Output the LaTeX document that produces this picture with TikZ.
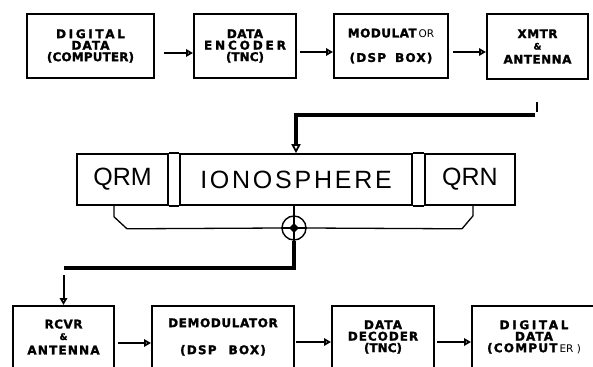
\documentclass[tikz,border=0pt]{standalone}
\usepackage{fontspec}
\newfontfamily\lett{DejaVu Sans}[BoldFeatures={FakeBold=1.6}]
\newfontfamily\thinf{Liberation Sans}
\usetikzlibrary{arrows.meta,shapes.geometric}
\newcommand\ls[2]{{\addfontfeatures{LetterSpace=#1}#2}}
\newcommand\rg[1]{{\mdseries\fontsize{10.5}{10.5}\selectfont #1}}
\begin{document}
\begin{tikzpicture}[x=1pt,y=-1pt,
  blk/.style={draw,line width=2pt,inner sep=0pt,align=center,
    font=\lett\bfseries\fontsize{12}{11.5}\selectfont},
  cell/.style={draw,line width=1.6pt,inner sep=0pt,minimum height=51pt,
    font=\thinf\fontsize{25}{25}\selectfont},
  arr/.style={line width=2pt,-{Triangle[open,length=7pt,width=7.5pt,line width=1.8pt]}},
  feed/.style={line width=4pt},
  feedarr/.style={line width=3.5pt,-{Triangle[open,length=9pt,width=9pt,line width=1.8pt]}},
  brk/.style={line width=1.3pt}]
\useasboundingbox (0,0) rectangle (593,366);
\clip (0,0) rectangle (593,366);
% top row
\node[blk,minimum width=127pt,minimum height=64pt] (b1) at (90.5,46)
  {\ls{22}{DIGITAL}\\\ls{9}{DATA}\\\ls{1}{(COMPUTER)}};
\node[blk,minimum width=102pt,minimum height=64pt] (b2) at (245,46)
  {\ls{4}{DATA}\\\ls{24}{ENCODER}\\(TNC)};
\node[blk,minimum width=114pt,minimum height=64pt] (b3) at (391,46)
  {\ls{4}{MODULAT}\,\rg{OR}\\[13pt]\ls{10}{(DSP}\hspace{9pt}\ls{10}{BOX)}};
\node[blk,minimum width=101pt,minimum height=65pt] (b4) at (537.5,46.5)
  {\ls{4}{XMTR}\\{\fontsize{9}{9}\selectfont\&}\\[2.5pt]\ls{4}{ANTENNA}};
\coordinate (ya) at (0,53);
\coordinate (yb) at (0,52);
\draw[arr,shorten <=9pt] (b1.east |- ya) -- (b2.west |- ya);
\draw[arr,shorten <=3pt] (b2.east |- yb) -- (b3.west |- yb);
\draw[arr,shorten <=4pt] (b3.east |- yb) -- (b4.west |- yb);
% ionosphere
\node[cell,minimum width=91pt] (qrm) at (122.5,179.5) {QRM};
\node[cell,minimum width=232pt] (ion) at (296,179.5) {\ls{11}{IONOSPHERE}};
\node[cell,minimum width=90pt] (qrn) at (470,179.5) {QRN};
\draw[line width=1.6pt] (qrm.north east) -- (ion.north west);
\draw[line width=1.6pt] (qrm.south east) -- (ion.south west);
\draw[line width=1.6pt] (ion.north east) -- (qrn.north west);
\draw[line width=1.6pt] (ion.south east) -- (qrn.south west);
% feed from transmitter
\draw[line width=2pt] (537,102) -- (537,112);
\coordinate (src) at (535,115);
\draw[feed] (src) -- (ion.north |- src);
\draw[feedarr] ([yshift=2pt]ion.north |- src) -- (ion.north);
% summing junction
\node[circle,draw,line width=1.4pt,minimum size=24pt,inner sep=0pt] (sum) at (294,228) {};
\draw[brk] (sum.north |- ion.south) -- (sum.south);
\draw[brk] (sum.west) -- (sum.east);
\node[diamond,fill,minimum width=10pt,minimum height=10pt,inner sep=0pt] (dm) at (sum) {};
\draw[brk] ([xshift=-8.5pt]qrm.south) -- ++(0,11) -- ++(13,12) -- (sum.west);
\draw[brk] ([xshift=3pt]qrn.south) -- ++(0,10) -- ++(-11,13) -- (sum.east);
% bottom row
\node[blk,minimum width=101pt,minimum height=62pt] (c1) at (63.5,337)
  {\ls{4}{RCVR}\\{\fontsize{9}{9}\selectfont\&}\\[3pt]\ls{10}{ANTENNA}};
\node[blk,minimum width=142pt,minimum height=62pt] (c2) at (223,337)
  {\ls{5}{DEMODULATOR}\\[15.5pt]\ls{10}{(DSP}\hspace{12pt}\ls{10}{BOX)}};
\node[blk,minimum width=102pt,minimum height=62pt] (c3) at (383,337)
  {\ls{9}{DATA}\\\ls{8}{DECODER}\\(TNC)};
\node[blk,minimum width=124pt,minimum height=62pt] (c4) at (534,337)
  {\ls{22}{DIGITAL}\\\ls{9}{DATA}\\\ls{10}{(COMPUT}\,\rg{ER )}};
\coordinate (bend) at (c1.north |- 0,268);
\draw[feed] (sum.south) |- (bend);
\draw[arr] ([yshift=-7pt]bend) -- (c1.north);
\coordinate (yc) at (0,343);
\coordinate (yd) at (0,342);
\draw[arr,shorten <=3pt] (c1.east |- yc) -- (c2.west |- yc);
\draw[arr,shorten <=1pt] (c2.east |- yd) -- (c3.west |- yd);
\draw[arr,shorten <=2pt] (c3.east |- yd) -- (c4.west |- yd);
\end{tikzpicture}
\end{document}
